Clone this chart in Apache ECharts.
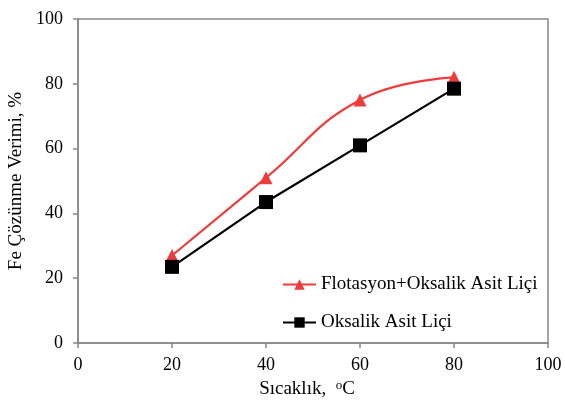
<!DOCTYPE html>
<html><head><meta charset="utf-8">
<script src="https://cdn.jsdelivr.net/npm/echarts@6/dist/echarts.min.js"></script>
<style>html,body{margin:0;padding:0;background:#fff}#c{width:565px;height:402px}</style>
</head><body><div id="c"></div>
<script>
const categories = [20, 40, 60, 80];
const flotasyon = [27, 51, 75, 82];
const oksalik = [23.5, 43.5, 61, 78.5];
const seriesNames = ['Flotasyon+Oksalik Asit Liçi', 'Oksalik Asit Liçi'];

const chart = echarts.init(document.getElementById('c'));
const font = 'Liberation Serif';
const axisCommon = {
  min: 0, max: 100, interval: 20,
  axisLine: { show: true, lineStyle: { color: '#888', width: 1.5 } },
  axisTick: { show: true, inside: false, length: 5, lineStyle: { color: '#888', width: 1.5 } },
  splitLine: { show: false },
  axisLabel: { color: '#000', fontFamily: font, fontSize: 18 },
  nameTextStyle: { color: '#000', fontFamily: font, fontSize: 19 }
};
chart.setOption({
  animation: false,
  backgroundColor: '#fff',
  grid: { left: 78, right: 17, top: 19, bottom: 59, show: true, borderColor: '#888', borderWidth: 1.5,
    containLabel: false, outerBoundsMode: 'none' },
  xAxis: Object.assign({}, axisCommon, {
    type: 'value', name: 'Sıcaklık,  {sup|o}C', nameLocation: 'middle', nameGap: 36,
    axisLabel: Object.assign({}, axisCommon.axisLabel, { margin: 13 }),
    nameTextStyle: { color: '#000', fontFamily: font, fontSize: 19, padding: [0, 12, 0, 0],
      rich: { sup: { fontFamily: font, fontSize: 13, color: '#000', padding: [0, 0, 8, 0] } } }
  }),
  yAxis: Object.assign({}, axisCommon, {
    type: 'value', name: 'Fe Çözünme Verimi, %', nameLocation: 'middle', nameGap: 52,
    axisLabel: Object.assign({}, axisCommon.axisLabel, { margin: 15 })
  }),
  legend: {
    orient: 'vertical', left: 277, top: 270, itemGap: 19, itemWidth: 33, itemHeight: 13,
    textStyle: { fontFamily: font, fontSize: 19, color: '#000' },
    data: seriesNames
  },
  series: [
    { name: seriesNames[0], type: 'line', smooth: 0.45, data: categories.map((c, i) => [c, flotasyon[i]]),
      symbol: 'triangle', symbolSize: 13, itemStyle: { color: '#ee3b3b' }, lineStyle: { color: '#ee3b3b', width: 2.2 } },
    { name: seriesNames[1], type: 'line', data: categories.map((c, i) => [c, oksalik[i]]),
      symbol: 'rect', symbolSize: 14, itemStyle: { color: '#000' }, lineStyle: { color: '#000', width: 2.2 } }
  ]
});
</script></body></html>
